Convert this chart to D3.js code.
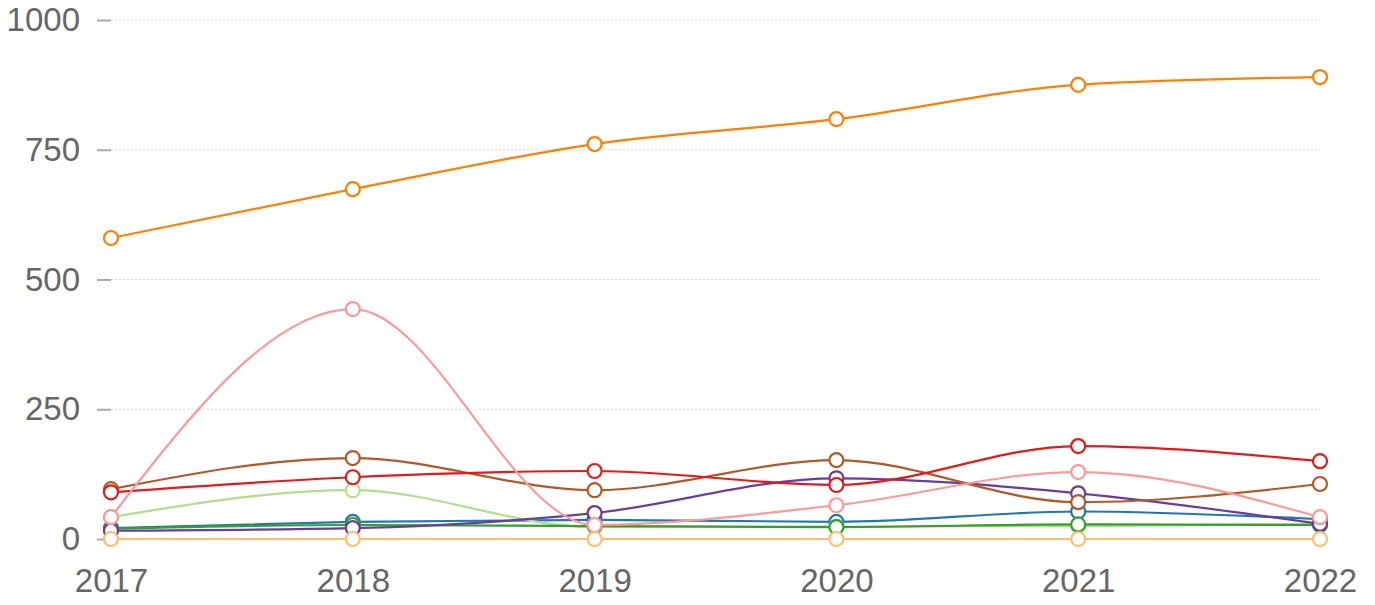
<!DOCTYPE html>
<html>
<head>
<meta charset="utf-8">
<script src="https://cdn.jsdelivr.net/npm/d3@7"></script>
<style>
  html, body { margin: 0; padding: 0; background: #fff; }
  svg { display: block; font-family: "Liberation Sans", Arial, sans-serif; }
</style>
</head>
<body>
<div id="chart"></div>
<script>
const years = ["2017", "2018", "2019", "2020", "2021", "2022"];
const yTicks = [0, 250, 500, 750, 1000];

const blueValues = [21, 33, 37, 33, 53, 38];
const lightGreenValues = [42, 94, 23, 24, 25, 29];
const greenValues = [20, 27, 25, 23, 28, 27];
const purpleValues = [16, 21, 50, 117, 88, 29];
const brownValues = [96, 156, 94, 152, 71, 106];
const redValues = [90, 119, 131, 104, 179, 150];
const pinkValues = [42, 443, 27, 65, 129, 42];
const lightOrangeValues = [0, 0, 0, 0, 0, 0];
const orangeValues = [580, 674, 761, 809, 875, 890];

const series = [
  { color: "#1f78b4", values: blueValues },
  { color: "#b2df8a", values: lightGreenValues },
  { color: "#33a02c", values: greenValues },
  { color: "#6a3d9a", values: purpleValues },
  { color: "#b15928", values: brownValues },
  { color: "#e31a1c", values: redValues },
  { color: "#fb9a99", values: pinkValues },
  { color: "#fdbf6f", values: lightOrangeValues },
  { color: "#ff7f00", values: orangeValues },
];

const width = 1375, height = 605;
const margin = { top: 20, right: 55, bottom: 66, left: 111 };

const svg = d3.select("#chart")
  .append("svg")
  .attr("width", width)
  .attr("height", height);

const x = d3.scalePoint()
  .domain(years)
  .range([margin.left, width - margin.right]);

const y = d3.scaleLinear()
  .domain([0, 1000])
  .range([height - margin.bottom, margin.top]);

// grid lines
svg.append("g")
  .selectAll("line")
  .data(yTicks)
  .join("line")
  .attr("x1", margin.left)
  .attr("x2", width - margin.right)
  .attr("y1", d => y(d))
  .attr("y2", d => y(d))
  .attr("stroke", "#d6d6d6")
  .attr("stroke-width", 1)
  .attr("stroke-dasharray", "2,2");

// y axis
const yAxis = svg.append("g")
  .attr("transform", `translate(${margin.left},0)`)
  .call(d3.axisLeft(y).tickValues(yTicks).tickFormat(d3.format("d")).tickSize(14).tickPadding(17));
yAxis.select(".domain").remove();
yAxis.selectAll(".tick line").attr("stroke", "#aaa").attr("stroke-width", 2);
yAxis.selectAll(".tick text")
  .attr("fill", "#666")
  .attr("font-size", 33)
  .attr("font-family", "Liberation Sans, Arial, sans-serif");

// x axis labels
const xAxis = svg.append("g")
  .attr("transform", `translate(0,${height - margin.bottom})`)
  .call(d3.axisBottom(x).tickSize(0).tickPadding(30));
xAxis.select(".domain").remove();
xAxis.selectAll(".tick text")
  .attr("fill", "#666")
  .attr("font-size", 33)
  .attr("font-family", "Liberation Sans, Arial, sans-serif");

const line = d3.line()
  .x((d, i) => x(years[i]))
  .y(d => y(d))
  .curve(d3.curveMonotoneX);

const groups = svg.append("g")
  .selectAll("g")
  .data(series)
  .join("g");

groups.append("path")
  .attr("fill", "none")
  .attr("stroke", d => d.color)
  .attr("stroke-width", 2.2)
  .attr("d", d => line(d.values));

groups.selectAll("circle")
  .data(d => d.values.map(v => ({ v, color: d.color })))
  .join("circle")
  .attr("cx", (d, i) => x(years[i]))
  .attr("cy", d => y(d.v))
  .attr("r", 7)
  .attr("fill", "#fff")
  .attr("stroke", d => d.color)
  .attr("stroke-width", 2.2);
</script>
</body>
</html>
